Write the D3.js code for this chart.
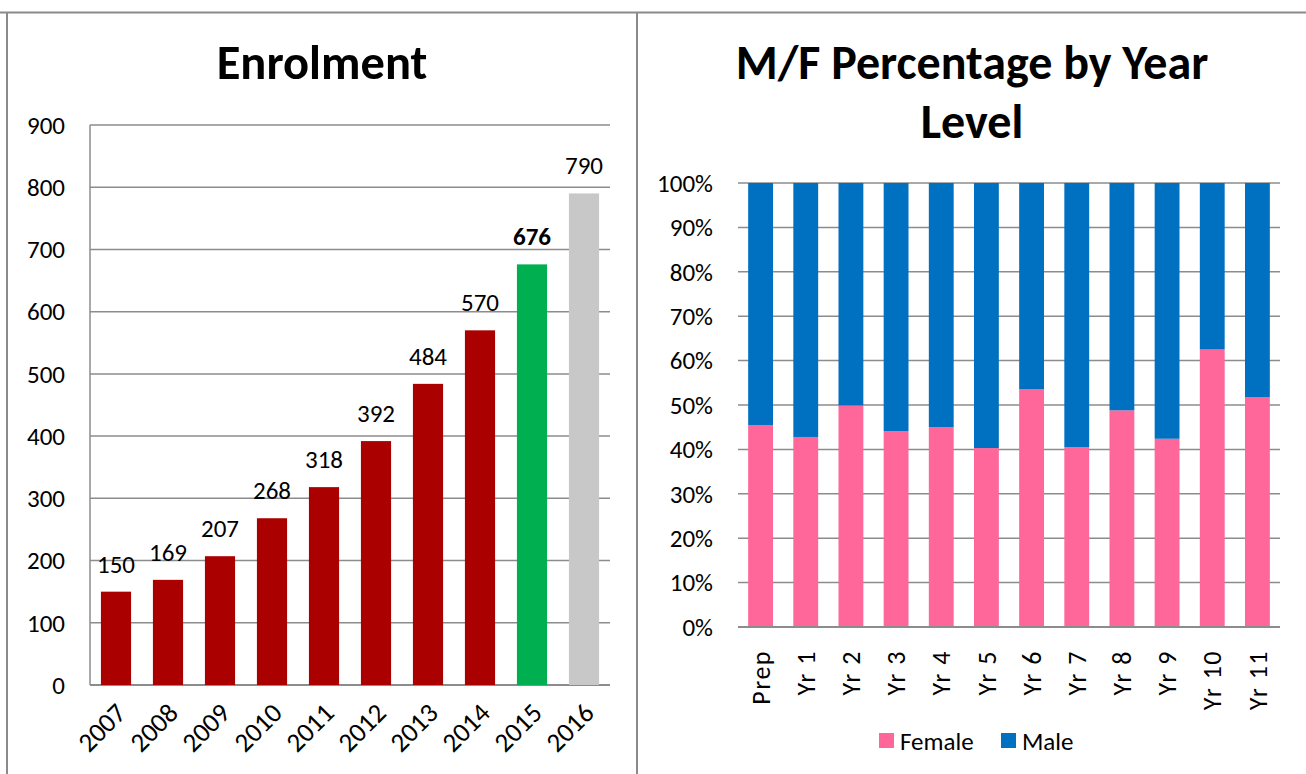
<!DOCTYPE html>
<html>
<head>
<meta charset="utf-8">
<script src="https://cdn.jsdelivr.net/npm/d3@7"></script>
<style>
  body { margin: 0; background: #fff; }
  text { font-family: Carlito, Calibri, Lato, sans-serif; fill: #000; }
</style>
</head>
<body>
<div id="chart"></div>
<script>
// enrolment data
var years = ["2007", "2008", "2009", "2010", "2011", "2012", "2013", "2014", "2015", "2016"];
var enrolment = [150, 169, 207, 268, 318, 392, 484, 570, 676, 790];
var enrolTicks = [0, 100, 200, 300, 400, 500, 600, 700, 800, 900];

// M/F data (percent female, rest is male)
var levels = ["Prep", "Yr 1", "Yr 2", "Yr 3", "Yr 4", "Yr 5", "Yr 6", "Yr 7", "Yr 8", "Yr 9", "Yr 10", "Yr 11"];
var femalePct = [45.5, 42.8, 49.9, 44.1, 45.0, 40.3, 53.6, 40.5, 48.8, 42.4, 62.5, 51.8];
var malePct = femalePct.map(function(f) { return 100 - f; });
var pctTicks = [0, 10, 20, 30, 40, 50, 60, 70, 80, 90, 100];

var W = 1306, H = 774;
var gridColor = "#8c8c8c";
var fs = "25px";

var svg = d3.select("#chart").append("svg")
    .attr("width", W)
    .attr("height", H);

// panel borders
svg.append("line").attr("x1", 0).attr("x2", W).attr("y1", 12.5).attr("y2", 12.5)
    .attr("stroke", "#8a8a8a").attr("stroke-width", 2);
svg.append("line").attr("x1", 7).attr("x2", 7).attr("y1", 12).attr("y2", H)
    .attr("stroke", "#8a8a8a").attr("stroke-width", 2);
svg.append("line").attr("x1", 637).attr("x2", 637).attr("y1", 12).attr("y2", H)
    .attr("stroke", "#8a8a8a").attr("stroke-width", 2);

// ---------- left: Enrolment ----------
var left = {x0: 90, x1: 610, y0: 125, y1: 685};

var x = d3.scaleBand().domain(years).range([left.x0, left.x1])
    .paddingInner(0.42).paddingOuter(0.21);
var y = d3.scaleLinear().domain([0, 900]).range([left.y1, left.y0]);

svg.append("text")
    .attr("x", 322).attr("y", 79)
    .attr("text-anchor", "middle")
    .style("font-size", "48.5px").style("font-weight", "bold")
    .text("Enrolment");

// gridlines
svg.append("g").selectAll("line").data(enrolTicks).enter().append("line")
    .attr("x1", left.x0).attr("x2", left.x1)
    .attr("y1", function(d) { return y(d); })
    .attr("y2", function(d) { return y(d); })
    .attr("stroke", gridColor).attr("stroke-width", d => d === 0 ? 2 : 1.5);

// y axis line
svg.append("line").attr("x1", left.x0).attr("x2", left.x0)
    .attr("y1", left.y0).attr("y2", left.y1)
    .attr("stroke", gridColor).attr("stroke-width", 1.5);

svg.append("g").selectAll("text").data(enrolTicks).enter().append("text")
    .attr("x", left.x0 - 25)
    .attr("y", function(d) { return y(d); })
    .attr("dy", "0.35em")
    .attr("text-anchor", "end")
    .style("font-size", fs)
    .text(function(d) { return d; });

function barColor(i) {
    if (years[i] === "2015") return "#00b050";
    if (years[i] === "2016") return "#c8c8c8";
    return "#aa0000";
}

svg.append("g").selectAll("rect").data(enrolment).enter().append("rect")
    .attr("x", function(d, i) { return x(years[i]); })
    .attr("y", function(d) { return y(d); })
    .attr("width", x.bandwidth())
    .attr("height", function(d) { return y(0) - y(d); })
    .attr("fill", function(d, i) { return barColor(i); });

svg.append("g").selectAll("text").data(enrolment).enter().append("text")
    .attr("x", function(d, i) { return x(years[i]) + x.bandwidth() / 2; })
    .attr("y", function(d) { return y(d) - 19; })
    .attr("text-anchor", "middle")
    .style("font-size", fs)
    .style("font-weight", function(d, i) { return years[i] === "2015" ? "bold" : "normal"; })
    .text(function(d) { return d; });

// rotated year labels
svg.append("g").selectAll("text").data(years).enter().append("text")
    .attr("transform", function(d) {
        return "translate(" + (x(d) + x.bandwidth() / 2 + 5) + "," + 708 + ") rotate(-45)";
    })
    .attr("text-anchor", "end")
    .attr("dy", "0.35em")
    .style("font-size", "27px")
    .text(function(d) { return d; });

// ---------- right: M/F Percentage ----------
var right = {x0: 738, x1: 1280, y0: 183, y1: 627};

var x2 = d3.scaleBand().domain(levels).range([right.x0, right.x1])
    .paddingInner(0.45).paddingOuter(0.225);
var y2 = d3.scaleLinear().domain([0, 100]).range([right.y1, right.y0]);

var title2 = svg.append("text")
    .attr("x", 972).attr("y", 79)
    .attr("text-anchor", "middle")
    .style("font-size", "48px").style("font-weight", "bold");
title2.append("tspan").attr("x", 972).text("M/F Percentage by Year");
title2.append("tspan").attr("x", 972).attr("dy", 59).text("Level");

svg.append("g").selectAll("line").data(pctTicks).enter().append("line")
    .attr("x1", right.x0).attr("x2", right.x1)
    .attr("y1", function(d) { return y2(d); })
    .attr("y2", function(d) { return y2(d); })
    .attr("stroke", gridColor).attr("stroke-width", d => d === 0 ? 2 : 1.5);

svg.append("g").selectAll("text").data(pctTicks).enter().append("text")
    .attr("x", right.x0 - 25)
    .attr("y", function(d) { return y2(d); })
    .attr("dy", "0.35em")
    .attr("text-anchor", "end")
    .style("font-size", fs)
    .text(function(d) { return d + "%"; });

var stackData = levels.map(function(l, i) {
    return {level: l, Female: femalePct[i], Male: malePct[i]};
});
var series = d3.stack().keys(["Female", "Male"])(stackData);
var colors = {Female: "#ff6699", Male: "#0070c0"};

svg.append("g").selectAll("g").data(series).enter().append("g")
    .attr("fill", function(s) { return colors[s.key]; })
  .selectAll("rect").data(function(s) { return s; }).enter().append("rect")
    .attr("x", function(d) { return x2(d.data.level); })
    .attr("y", function(d) { return y2(d[1]); })
    .attr("width", x2.bandwidth())
    .attr("height", function(d) { return y2(d[0]) - y2(d[1]); });

// redraw baseline over bars
svg.append("line").attr("x1", right.x0).attr("x2", right.x1)
    .attr("y1", y2(0)).attr("y2", y2(0))
    .attr("stroke", gridColor).attr("stroke-width", 2);

svg.append("g").selectAll("text").data(levels).enter().append("text")
    .attr("transform", function(d) {
        return "translate(" + (x2(d) + x2.bandwidth() / 2) + "," + 650 + ") rotate(-90)";
    })
    .attr("text-anchor", "end")
    .attr("dy", "0.35em")
    .style("font-size", "26px")
    .style("letter-spacing", "1.5px")
    .text(function(d) { return d; });

// legend
var legendItems = [{key: "Female", x: 879}, {key: "Male", x: 1001}];
var lg = svg.append("g").selectAll("g").data(legendItems).enter().append("g")
    .attr("transform", function(d) { return "translate(" + d.x + ",733)"; });
lg.append("rect").attr("width", 15).attr("height", 15)
    .attr("fill", function(d) { return colors[d.key]; });
lg.append("text").attr("x", 21).attr("y", 8).attr("dy", "0.35em")
    .style("font-size", fs)
    .text(function(d) { return d.key; });
</script>
</body>
</html>
